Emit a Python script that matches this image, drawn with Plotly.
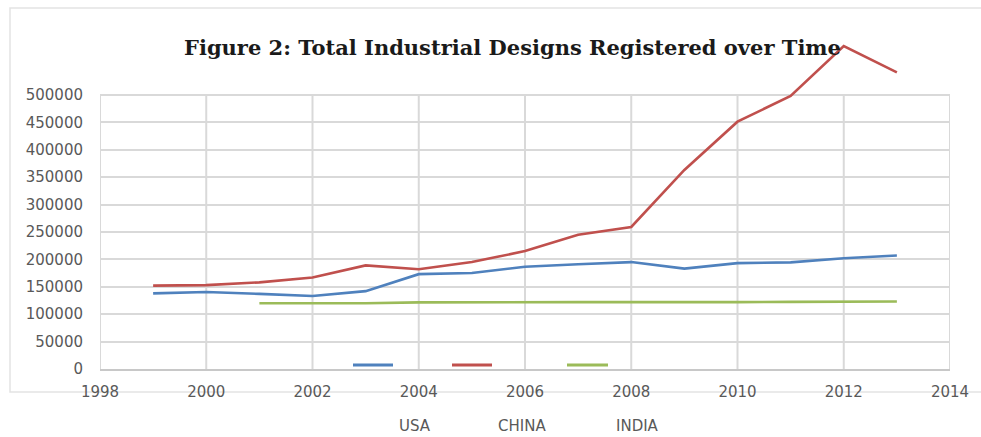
import plotly.graph_objects as go

years_usa = list(range(1999, 2014))
usa = [138000, 140500, 137000, 133000, 142000, 173000, 175000, 186500, 191000,
       195000, 183000, 193000, 194500, 202000, 207000]
years_china = list(range(1999, 2014))
china = [152000, 153000, 158000, 167000, 189000, 182000, 195000, 215000, 245000,
         259000, 363000, 451000, 498000, 589000, 541000]
years_india = list(range(2001, 2014))
india = [120000, 120000, 120000, 121500, 122000, 121800, 122000, 122000, 121500,
         122000, 122500, 122500, 123000]

series_names = ["USA", "CHINA", "INDIA"]
colors = ["#4f81bd", "#c0504d", "#9bbb59"]
y_ticks = list(range(0, 500001, 50000))
x_ticks = list(range(1998, 2015, 2))
title = "Figure 2: Total Industrial Designs Registered over Time"

W, H = 981, 437
ml, mr, mt, mb = 100, 31, 40, 68
pw, ph = W - ml - mr, H - mt - mb

def px(x):
    return (x - ml) / pw

def py(y):
    return (H - mb - y) / ph

fig = go.Figure()
for xs, ys, name, c in zip([years_usa, years_china, years_india],
                           [usa, china, india], series_names, colors):
    fig.add_trace(go.Scatter(x=xs, y=ys, mode="lines", name=name,
                             line=dict(color=c, width=2.6), showlegend=False))

shapes = []
# vertical gridlines stopping at 500000
for xv in x_ticks:
    shapes.append(dict(type="line", xref="x", yref="y", x0=xv, x1=xv, y0=0, y1=500000,
                       line=dict(color="#d9d9d9", width=2), layer="below"))
# outer border
shapes.append(dict(type="rect", xref="paper", yref="paper",
                   x0=px(10), x1=px(990), y0=py(392), y1=py(8),
                   line=dict(color="#e3e3e3", width=1.5), layer="below"))
# legend swatches
sw = [(353, 393), (452, 492), (567, 608)]
for (a, b), c in zip(sw, colors):
    shapes.append(dict(type="line", xref="paper", yref="paper",
                       x0=px(a), x1=px(b), y0=py(365), y1=py(365),
                       line=dict(color=c, width=3)))

annotations = [dict(text="<b>" + title + "</b>", xref="paper", yref="paper",
                    x=px(512), y=py(47), showarrow=False, xanchor="center", yanchor="middle",
                    font=dict(family="DejaVu Serif", size=21, color="#1a1a1a"))]
for name, cx in zip(series_names, [415, 522, 637]):
    annotations.append(dict(text=name, xref="paper", yref="paper", x=px(cx), y=py(426),
                            showarrow=False, xanchor="center", yanchor="middle",
                            font=dict(family="DejaVu Sans", size=15, color="#595959")))

fig.update_layout(
    width=W, height=H,
    margin=dict(l=ml, r=mr, t=mt, b=mb),
    paper_bgcolor="white", plot_bgcolor="white",
    shapes=shapes, annotations=annotations,
    xaxis=dict(range=[1998, 2014], tickvals=x_ticks, showgrid=False, zeroline=False,
               showline=True, linecolor="#c8c8c8", linewidth=2,
               tickfont=dict(family="DejaVu Sans", size=15, color="#595959"),
               ticks="", ticklabelstandoff=8),
    yaxis=dict(range=[0, 600000], tickvals=y_ticks, ticktext=[str(v) for v in y_ticks],
               showgrid=True, gridcolor="#d9d9d9", gridwidth=2, zeroline=False,
               showline=False,
               tickfont=dict(family="DejaVu Sans", size=15, color="#595959"),
               ticks="", ticklabelstandoff=16),
)

fig.write_html("out.html")
